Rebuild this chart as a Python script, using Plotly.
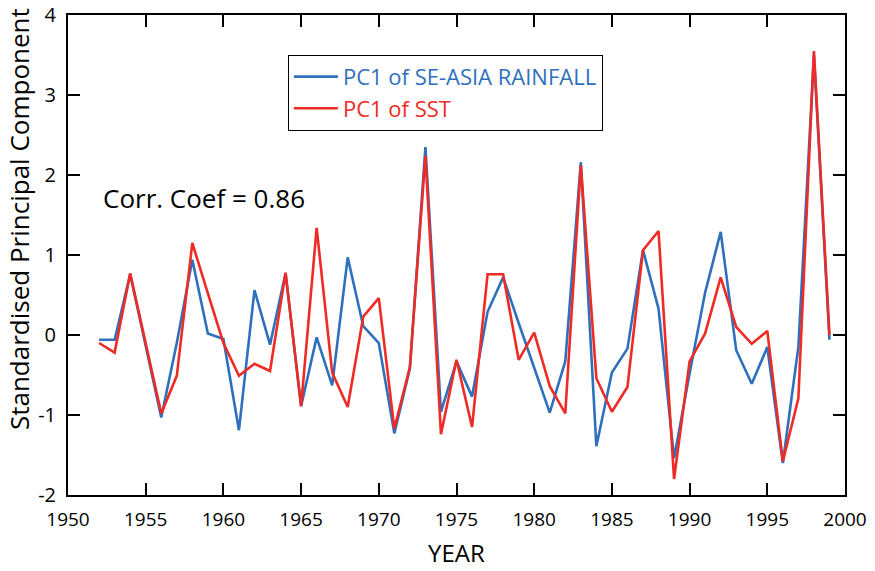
import plotly.graph_objects as go

years = list(range(1952, 2000))
rain_pc1 = [-0.06, -0.06, 0.76, -0.12, -1.03, -0.10, 0.94, 0.02, -0.05, -1.19,
            0.56, -0.12, 0.77, -0.89, -0.03, -0.63, 0.97, 0.11, -0.10, -1.23,
            -0.42, 2.35, -0.96, -0.33, -0.77, 0.29, 0.72, 0.15, -0.40, -0.97,
            -0.33, 2.16, -1.39, -0.47, -0.17, 1.06, 0.33, -1.54, -0.48, 0.53,
            1.29, -0.19, -0.61, -0.15, -1.60, -0.15, 3.50, -0.06]
sst_pc1 = [-0.10, -0.22, 0.77, -0.10, -0.98, -0.51, 1.15, 0.52, -0.10, -0.51,
           -0.36, -0.45, 0.78, -0.89, 1.34, -0.47, -0.90, 0.23, 0.46, -1.17,
           -0.40, 2.24, -1.24, -0.31, -1.15, 0.76, 0.76, -0.31, 0.03, -0.64,
           -0.98, 2.12, -0.54, -0.96, -0.65, 1.06, 1.30, -1.80, -0.33, 0.02,
           0.72, 0.10, -0.11, 0.05, -1.58, -0.79, 3.55, 0.00]
x_ticks = list(range(1950, 2001, 5))
y_ticks = list(range(-2, 5))
y_tick_labels = [str(v) for v in y_ticks]

BLUE = "#2f70bd"
RED = "#ee2b25"
FONT = "Open Sans"

fig = go.Figure()
fig.add_trace(go.Scatter(
    x=years, y=rain_pc1, mode="lines",
    line=dict(color=BLUE, width=2.6),
    name=f"<span style='color:{BLUE}'>PC1 of SE-ASIA RAINFALL</span>"))
fig.add_trace(go.Scatter(
    x=years, y=sst_pc1, mode="lines",
    line=dict(color=RED, width=2.6),
    name=f"<span style='color:{RED}'>PC1 of SST</span>"))

axis_common = dict(
    showline=True, linecolor="black", linewidth=2, mirror="ticks",
    ticks="inside", ticklen=12, tickwidth=2, tickcolor="black",
    showgrid=False, zeroline=False, automargin=False,
)
fig.update_xaxes(range=[1950, 2000], tickvals=x_ticks,
                 tickfont=dict(family=FONT, size=19, color="black"),
                 ticklabelstandoff=6, **axis_common)
fig.update_yaxes(range=[-2, 4], tickvals=y_ticks, ticktext=y_tick_labels,
                 tickfont=dict(family=FONT, size=20, color="black"),
                 ticklabelstandoff=6, **axis_common)

fig.add_annotation(text="Standardised Principal Component", textangle=-90,
                   xref="paper", yref="paper", x=-0.063, y=0.575,
                   xanchor="center", yanchor="middle", showarrow=False,
                   font=dict(family=FONT, size=26, color="black"))
fig.add_annotation(text="YEAR", xref="paper", yref="paper", x=0.5, y=-0.12,
                   xanchor="center", yanchor="middle", showarrow=False,
                   font=dict(family=FONT, size=24, color="black"))
fig.add_annotation(text="Corr. Coef = 0.86", xref="paper", yref="paper",
                   x=0.043, y=0.619, xanchor="left", yanchor="middle",
                   showarrow=False,
                   font=dict(family=FONT, size=26, color="black"))

fig.update_layout(
    width=875, height=571,
    margin=dict(l=68, r=30, t=15, b=76),
    paper_bgcolor="white", plot_bgcolor="white",
    showlegend=True,
    legend=dict(x=0.283, y=0.917, xanchor="left", yanchor="top",
                bordercolor="black", borderwidth=1, bgcolor="white",
                font=dict(family=FONT, size=22),
                tracegroupgap=0, itemwidth=44),
)

fig.write_html("out.html")
